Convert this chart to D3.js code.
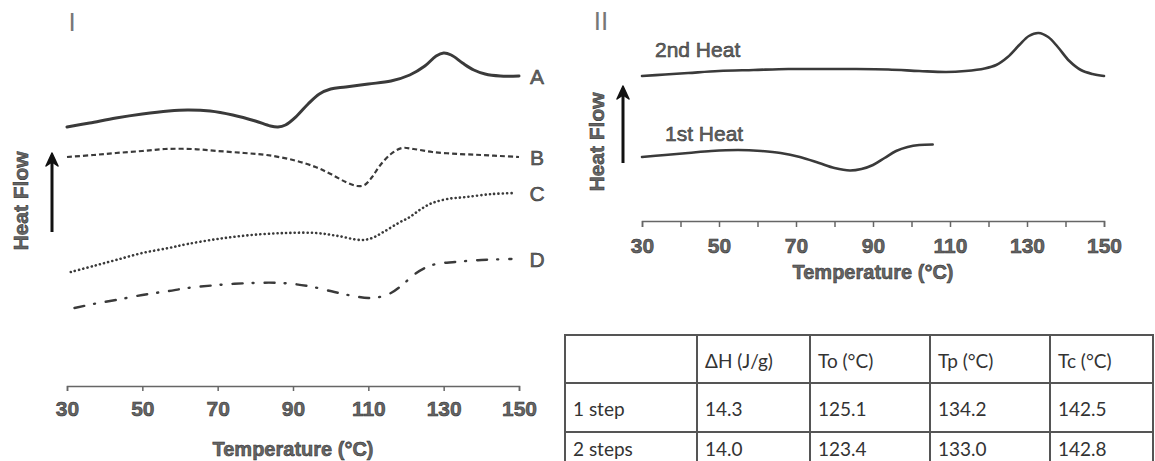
<!DOCTYPE html>
<html>
<head>
<meta charset="utf-8">
<script src="https://cdn.jsdelivr.net/npm/d3@7"></script>
<style>
  body { margin: 0; background: #fff; }
  .lbl { font-family: "Liberation Sans", Arial, sans-serif; font-weight: bold; fill: #666; stroke: #2a2a2a; stroke-width: 0.5px; }
  .axis text { font-family: "Liberation Sans", Arial, sans-serif; font-size: 21px; font-weight: bold; fill: #666; stroke: #2a2a2a; stroke-width: 0.5px; }
  .axis path, .axis line { stroke: #666; stroke-width: 1.5px; }
  .tbl { font-family: Lato, "Open Sans", sans-serif; font-size: 19px; fill: #333; }
</style>
</head>
<body>
<div id="chart"></div>
<script>
// Panel I: four DSC traces (temperature °C, heat flow in arbitrary units)
const curveA = [[30,213],[36,217],[43,222],[50,226],[57,229],[62,230],[68,229],[74,225],[80,219],[84,214],[86,213],[88,215],[91,224],[94,236],[97,246],[100,251],[104,253],[110,256],[116,259],[121,265],[125,274],[128,284],[130,287],[132,285],[135,277],[138,270],[141,266],[145,264],[150,264]];
const curveB = [[30,183],[37,185],[43,187],[50,189],[56,191],[63,191],[70,189],[77,187],[83,185],[90,180],[96,173],[100,166],[104,158],[107,154],[109,155],[111,163],[113,174],[116,186],[119,192],[122,191],[127,188],[134,186],[140,185],[145,184],[150,183]];
const curveC = [[31,68],[37,74],[43,80],[50,87],[57,92],[62,96],[70,101],[79,105],[88,107],[96,107],[102,104],[108,100],[111,102],[114,108],[118,117],[121,123],[124,131],[127,137],[131,141],[136,143],[143,146],[149,147]];
const curveD = [[32,32],[37,36],[43,40],[50,45],[57,49],[62,52],[70,55],[79,57],[87,57],[94,54],[101,48],[106,44],[110,42],[113,43],[116,47],[119,55],[122,65],[125,72],[128,76],[133,78],[140,80],[148,81]];
const curveNames = ["A", "B", "C", "D"];

// Panel II: 1st and 2nd heat
const heat2 = [[30,164],[36,165.5],[42,167],[50,169],[59,170],[68,171],[76,171],[85,171],[94,170.5],[102,169],[109,168],[114,169],[119,171.5],[122,175],[125,183],[128,195],[130.5,204],[133,207],[135.5,203],[138,193],[141,179],[144,170],[147,166],[150,164]];
const heat1 = [[30,83],[36,85],[42,87],[48,89],[55,90],[61,89],[66,87],[71,83],[76,77],[80,72],[84,69.5],[87,71],[90,75],[93,82],[96,89],[99,93],[102,95],[105.5,95.5]];
const heatNames = ["2nd Heat", "1st Heat"];

const ticksI = [30, 50, 70, 90, 110, 130, 150];
const ticksII = [30, 40, 50, 60, 70, 80, 90, 100, 110, 120, 130, 140, 150];
const tickLabelsII = [30, 50, 70, 90, 110, 130, 150];

// Table
const tableHeader = ["", "ΔH (J/g)", "To (°C)", "Tp (°C)", "Tc (°C)"];
const tableRows = [
  ["1 step", "14.3", "125.1", "134.2", "142.5"],
  ["2 steps", "14.0", "123.4", "133.0", "142.8"]
];

const W = 1155, H = 461;
const svg = d3.select("#chart").append("svg")
  .attr("width", W).attr("height", H)
  .style("background", "#fff");

// ---------- Panel I ----------
const xI = d3.scaleLinear().domain([30, 150]).range([67, 519]);
const yI = d3.scaleLinear().domain([0, 300]).range([340, 40]);

svg.append("g")
  .attr("class", "axis")
  .attr("transform", "translate(0,386)")
  .call(d3.axisBottom(xI).tickValues(ticksI).tickSize(5).tickPadding(10));

const lineI = d3.line().x(d => xI(d[0])).y(d => yI(d[1])).curve(d3.curveCatmullRom);

const stylesI = [
  { w: 3, dash: null, cap: "round" },
  { w: 2.2, dash: "5,3", cap: "butt" },
  { w: 2.6, dash: "0.1,4.2", cap: "round" },
  { w: 2.4, dash: "10,10,1,11", cap: "round" }
];
[curveA, curveB, curveC, curveD].forEach((c, i) => {
  svg.append("path")
    .datum(c)
    .attr("d", lineI)
    .attr("fill", "none")
    .attr("stroke", "#3a3a3a")
    .attr("stroke-width", stylesI[i].w)
    .attr("stroke-linecap", stylesI[i].cap)
    .attr("stroke-dasharray", stylesI[i].dash);
  svg.append("text")
    .attr("class", "lbl")
    .attr("x", xI(150) + 18)
    .attr("y", yI(c[c.length - 1][1]))
    .attr("text-anchor", "middle")
    .attr("dominant-baseline", "central")
    .style("font-size", "21px")
    .style("font-weight", "normal")
    .text(curveNames[i]);
});

svg.append("text").attr("class", "lbl")
  .attr("x", xI(90)).attr("y", 456)
  .attr("text-anchor", "middle").style("font-size", "20px")
  .text("Temperature (°C)");

svg.append("text").attr("class", "lbl")
  .attr("transform", "translate(28,201) rotate(-90)")
  .attr("text-anchor", "middle").style("font-size", "21px")
  .text("Heat Flow");

svg.append("text")
  .attr("x", 72).attr("y", 31)
  .attr("text-anchor", "middle")
  .style("font-family", "'Liberation Sans', Arial, sans-serif")
  .style("font-size", "26px").style("fill", "#777")
  .text("I");

function arrow(x, yTop, yBot) {
  svg.append("line")
    .attr("x1", x).attr("x2", x).attr("y1", yBot).attr("y2", yTop + 8)
    .attr("stroke", "#111").attr("stroke-width", 3);
  svg.append("path")
    .attr("d", `M${x},${yTop} L${x - 6},${yTop + 13} L${x},${yTop + 9} L${x + 6},${yTop + 13} Z`)
    .attr("fill", "#111").attr("stroke", "#111").attr("stroke-width", 1.5)
    .attr("stroke-linejoin", "round");
}
arrow(52, yI(187), yI(108));

// ---------- Panel II ----------
const xII = d3.scaleLinear().domain([30, 150]).range([642, 1104]);
const yII = d3.scaleLinear().domain([0, 200]).range([240, 40]);

svg.append("g")
  .attr("class", "axis")
  .attr("transform", "translate(0,221)")
  .call(d3.axisBottom(xII).tickValues(ticksII).tickSize(6).tickPadding(11)
    .tickFormat(d => tickLabelsII.includes(d) ? d : ""));

const lineII = d3.line().x(d => xII(d[0])).y(d => yII(d[1])).curve(d3.curveCatmullRom);
[heat2, heat1].forEach((c, i) => {
  svg.append("path")
    .datum(c)
    .attr("d", lineII)
    .attr("fill", "none")
    .attr("stroke", "#3a3a3a")
    .attr("stroke-width", 2.6)
    .attr("stroke-linecap", "round");
});

svg.append("text").attr("class", "lbl")
  .attr("x", 655).attr("y", 57)
  .style("font-size", "21px").style("font-weight", "normal")
  .text(heatNames[0]);
svg.append("text").attr("class", "lbl")
  .attr("x", 665).attr("y", 141)
  .style("font-size", "21px").style("font-weight", "normal")
  .text(heatNames[1]);

svg.append("text").attr("class", "lbl")
  .attr("x", xII(90)).attr("y", 279)
  .attr("text-anchor", "middle").style("font-size", "20px")
  .text("Temperature (°C)");

svg.append("text").attr("class", "lbl")
  .attr("transform", "translate(604,142) rotate(-90)")
  .attr("text-anchor", "middle").style("font-size", "21px")
  .text("Heat Flow");

svg.append("text")
  .attr("x", 601).attr("y", 30)
  .attr("text-anchor", "middle")
  .style("font-family", "'Liberation Sans', Arial, sans-serif")
  .style("font-size", "26px").style("fill", "#777")
  .text("II");

arrow(623, yII(154), yII(77));

// ---------- Table (last row is cut by the picture edge) ----------
const colEdges = [565, 697, 810, 930, 1050, 1153];
const rowEdges = [335, 383, 432, 462];
const allRows = [tableHeader].concat(tableRows);

const tbl = svg.append("g");
allRows.forEach((row, r) => {
  const y0 = rowEdges[r], y1 = rowEdges[r + 1];
  row.forEach((cell, c) => {
    tbl.append("rect")
      .attr("x", colEdges[c]).attr("y", y0)
      .attr("width", colEdges[c + 1] - colEdges[c])
      .attr("height", y1 - y0)
      .attr("fill", "none").attr("stroke", "#555").attr("stroke-width", 2);
    tbl.append("text")
      .attr("class", "tbl")
      .attr("x", colEdges[c] + 8)
      .attr("y", (y0 + y1) / 2 + 1)
      .attr("dominant-baseline", "central")
      .text(cell);
  });
});
</script>
</body>
</html>
